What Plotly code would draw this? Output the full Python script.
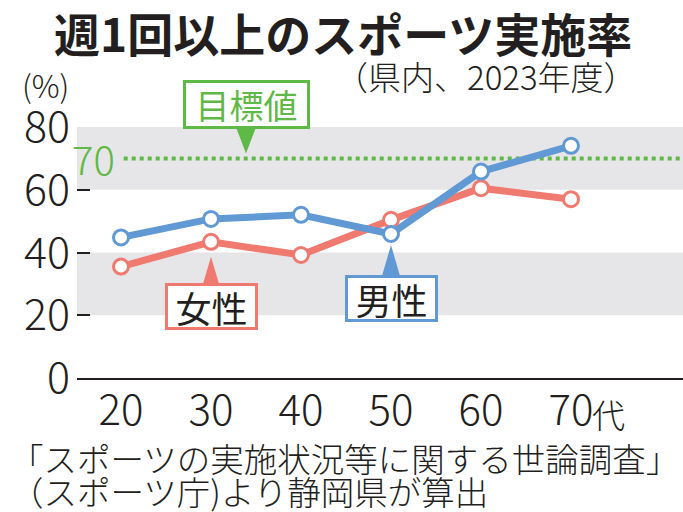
import plotly.graph_objects as go

# ---------------- data ----------------
ages = [20, 30, 40, 50, 60, 70]
age_labels = ["20", "30", "40", "50", "60", "70"]
age_suffix = "代"
men = [44.8, 50.7, 52.0, 45.9, 65.8, 74.0]
women = [35.5, 43.4, 39.2, 50.4, 60.5, 57.0]
target = 70
y_ticks = [0, 20, 40, 60, 80]
bands = [(20, 40), (60, 80)]

title = "週1回以上のスポーツ実施率"
subtitle = "（県内、2023年度）"
unit = "(%)"
source_lines = ["「スポーツの実施状況等に関する世論調査」", "（スポーツ庁)より静岡県が算出"]

# ---------------- style ----------------
BLUE = "#6199d4"
RED = "#f07a70"
GREEN = "#5fb946"
INK = "#231f20"
BAND = "#e6e6e8"
FONT = "Noto Sans CJK JP"
W, H = 683, 512

# pixel layout of plotting area
px_left, px_first, px_step = 77, 121, 90
px_y0, px_y80 = 378, 127
xr = [ages[0] - (px_first - px_left) / px_step * 10,
      ages[0] + (W - px_first) / px_step * 10]

fig = go.Figure()

fig.add_trace(go.Scatter(
    x=ages, y=women, mode="lines+markers", cliponaxis=False,
    line=dict(color=RED, width=7),
    marker=dict(size=15, color="white", line=dict(color=RED, width=3)),
    hoverinfo="skip"))
fig.add_trace(go.Scatter(
    x=ages, y=men, mode="lines+markers", cliponaxis=False,
    line=dict(color=BLUE, width=7),
    marker=dict(size=15, color="white", line=dict(color=BLUE, width=3)),
    hoverinfo="skip"))
# small category dots under the axis
fig.add_trace(go.Scatter(
    x=ages, y=[-2.9] * len(ages), mode="markers", cliponaxis=False,
    marker=dict(size=6, color=INK), hoverinfo="skip"))

shapes = []
for lo, hi in bands:
    shapes.append(dict(type="rect", xref="x domain", x0=0, x1=1, yref="y",
                       y0=lo, y1=hi, fillcolor=BAND, line=dict(width=0),
                       layer="below"))
shapes.append(dict(type="line", xref="x", x0=ages[0] + 0.3, x1=xr[1], yref="y",
                   y0=target, y1=target, line=dict(color=GREEN, width=4, dash="dot"),
                   layer="below"))

def tri(xref, xa, ya, tip, base, half, color):
    return dict(type="path", xref=xref, yref="y", xsizemode="pixel",
                ysizemode="pixel", xanchor=xa, yanchor=ya,
                path=f"M 0,{tip} L {-half},{base} L {half},{base} Z",
                fillcolor=color, line=dict(width=0), layer="above")

goal_x = 246 / W
shapes.append(tri("paper", goal_x, target, 5, 30, 9.5, GREEN))
shapes.append(tri("x", ages[1], women[1], -15, -42, 8, RED))
shapes.append(tri("x", ages[3], men[3], -11, -42, 9, BLUE))

ann = []
ann.append(dict(xref="paper", yref="paper", x=343 / W, y=1 - 32 / H,
                text=f"<b>{title}</b>", showarrow=False,
                font=dict(family=FONT, size=46, color=INK),
                xanchor="center", yanchor="middle"))
ann.append(dict(xref="paper", yref="paper", x=639 / W, y=1 - 76 / H,
                text=subtitle, showarrow=False,
                font=dict(family=FONT, size=33, color=INK, weight=300),
                xanchor="right", yanchor="middle"))
ann.append(dict(xref="paper", yref="paper", x=45 / W, y=1 - 84 / H,
                text=unit, showarrow=False,
                font=dict(family=FONT, size=31, color=INK, weight=300),
                xanchor="center", yanchor="middle"))
for i, line in enumerate(source_lines):
    ann.append(dict(xref="paper", yref="paper", x=8 / W, y=1 - (457 + 33 * i) / H,
                    text=line, showarrow=False,
                    font=dict(family=FONT, size=33.5, color=INK, weight=300),
                    xanchor="left", yanchor="middle"))
# target label
ann.append(dict(xref="paper", yref="y", x=93 / W, y=target, text=str(target),
                showarrow=False, font=dict(family=FONT, size=40, color=GREEN, weight=300),
                xanchor="center", yanchor="middle"))
ann.append(dict(xref="paper", yref="y", x=goal_x, y=target, yshift=29,
                text="目標値", showarrow=False,
                font=dict(family=FONT, size=34, color=GREEN),
                bgcolor="white", bordercolor=GREEN, borderwidth=3, borderpad=0,
                width=121, height=43, xanchor="center", yanchor="bottom"))
ann.append(dict(xref="x", yref="y", x=ages[1], y=women[1], yshift=-41,
                text="女性", showarrow=False,
                font=dict(family=FONT, size=36, color=INK),
                bgcolor="white", bordercolor=RED, borderwidth=3, borderpad=0,
                width=87, height=41, xanchor="center", yanchor="top"))
ann.append(dict(xref="x", yref="y", x=ages[3], y=men[3], yshift=-41,
                text="男性", showarrow=False,
                font=dict(family=FONT, size=36, color=INK),
                bgcolor="white", bordercolor=BLUE, borderwidth=3, borderpad=0,
                width=87, height=41, xanchor="center", yanchor="top"))
ann.append(dict(xref="x", yref="paper", x=ages[-1], xshift=19, y=1 - 414 / H,
                text=age_suffix, showarrow=False,
                font=dict(family=FONT, size=33, color=INK, weight=300),
                xanchor="left", yanchor="middle"))

fig.update_layout(
    width=W, height=H, margin=dict(l=0, r=0, t=0, b=0, autoexpand=False),
    paper_bgcolor="white", plot_bgcolor="white", showlegend=False,
    font=dict(family=FONT, color=INK),
    shapes=shapes, annotations=ann,
    xaxis=dict(domain=[px_left / W, 1], range=xr, tickvals=ages, ticktext=age_labels,
               ticks="", showgrid=False, zeroline=False, showline=True,
               linecolor=INK, linewidth=2,
               tickfont=dict(size=42, color=INK, weight=300),
               ticklabelstandoff=-5, automargin=False, fixedrange=True),
    yaxis=dict(domain=[1 - px_y0 / H, 1 - px_y80 / H], range=[0, 80],
               tickvals=y_ticks, ticks="inside", ticklen=13, tickwidth=2,
               tickcolor=INK, showgrid=False, zeroline=False, showline=False,
               tickfont=dict(size=43, color=INK, weight=300), ticklabelstandoff=6,
               automargin=False, fixedrange=True),
)

fig.write_html("out.html")
